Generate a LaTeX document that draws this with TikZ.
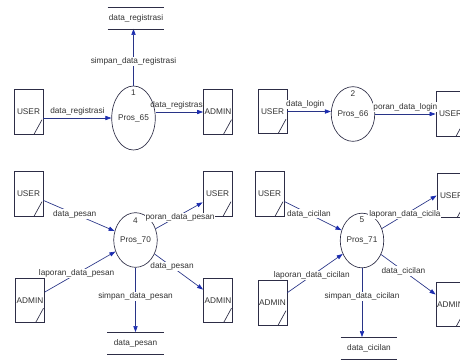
\documentclass[tikz,border=0pt]{standalone}
\usepackage{fontspec}
\setmainfont{Liberation Sans}
\usepackage{tikz}
\usetikzlibrary{
  arrows.meta,
  shapes.geometric
}

\definecolor{flowblue}{RGB}{40,52,135}
\definecolor{tipblue}{RGB}{28,45,175}
\definecolor{edgedark}{RGB}{45,45,70}
\definecolor{txtgray}{RGB}{50,50,50}

\newcommand{\dfdfont}{\fontsize{6.2}{7}\selectfont}

\begin{document}
\begin{tikzpicture}[
  x=0.75pt, y=-0.75pt,
  entity/.style={
    draw=edgedark, line width=0.6pt,
    minimum width=21.75pt, minimum height=33.5pt,
    inner sep=0pt, font=\dfdfont, text=txtgray,
    path picture={
      \draw[edgedark, line width=0.5pt]
        ([xshift=-6.75pt]path picture bounding box.south east) --
        ([xshift=-0.75pt, yshift=11pt]path picture bounding box.south east);
    }
  },
  proc/.style={
    ellipse, draw=edgedark, line width=0.5pt,
    minimum width=25.5pt, minimum height=41pt,
    inner sep=0pt, font=\dfdfont, text=txtgray
  },
  procnum/.style={font=\dfdfont, text=txtgray, inner sep=0pt},
  store/.style={
    minimum width=42pt, minimum height=16pt,
    inner sep=0pt, font=\dfdfont, text=txtgray
  },
  storeline/.style={draw=edgedark, line width=0.6pt},
  flow/.style={
    draw=flowblue, line width=0.5pt,
    -{Triangle[length=4.5pt, width=3.2pt, color=tipblue]}
  },
  flowlbl/.style={font=\dfdfont, text=txtgray, fill=white, inner sep=0.6pt}
]
  \useasboundingbox (0,0) rectangle (460,362);
  \clip (0,0) rectangle (460,362);

  % registrasi
  \node[store] (st1) at (136,18) {data\_registrasi};
  \node[proc, minimum height=48pt] (p1) at (133.5,118) {Pros\_65};
  \node[procnum] (n1) at ([yshift=-5.5pt]p1.north) {1};
  \node[entity] (u1) at (28.5,112) {USER};
  \node[entity] (a1) at (218,112) {ADMIN};

  \draw[flow] (p1.west -| u1.east) -- (p1.west)
    node[flowlbl, midway, above=1.5pt] (f11) {data\_registrasi};
  \draw[flow] (a1.west -| p1.east) -- (a1.west)
    node[flowlbl, fill=none, pos=.46, above=1.5pt] (f12) {data\_registrasi};
  \draw[flow] (p1.north) -- (p1.north |- st1.south)
    node[flowlbl, pos=.42] (f13) {simpan\_data\_registrasi};

  % login
  \node[proc] (p2) at (353,114) {Pros\_66};
  \node[procnum] (n2) at ([yshift=-5.5pt]p2.north) {2};
  \node[entity] (u2) at (272.5,111.5) {USER};
  \node[entity] (u2r) at (450.5,114) {USER};

  \draw[flow] (u2.east) -- (u2.east -| p2.west)
    node[flowlbl, pos=.41, above=1.5pt] (f21) {data\_login};
  \draw[flow] (p2.east) -- (p2.east -| u2r.west)
    node[flowlbl, pos=.5, above=1.5pt] (f22) {poran\_data\_login};

  % pesan
  \node[proc] (p3) at (135.5,240) {Pros\_70};
  \node[procnum] (n3) at ([yshift=-6pt]p3.north) {4};
  \node[entity] (u3) at (28.5,194) {USER};
  \node[entity] (u3r) at (217.5,194) {USER};
  \node[entity] (a3) at (30,300.5) {ADMIN};
  \node[entity] (a3r) at (218,300.5) {ADMIN};
  \node[store] (st3) at (135.5,343) {data\_pesan};

  \draw[flow] (u3) -- (p3)
    node[flowlbl, pos=.44] (f31) {data\_pesan};
  \draw[flow] (p3) -- (u3r)
    node[flowlbl, pos=.52, yshift=-2pt] (f32) {poran\_data\_pesan};
  \draw[flow] (a3) -- (p3)
    node[flowlbl, pos=.45] (f33) {laporan\_data\_pesan};
  \draw[flow] (p3) -- (a3r)
    node[flowlbl, pos=.36] (f34) {data\_pesan};
  \draw[flow] (p3.south) -- (p3.south |- st3.north)
    node[flowlbl, pos=.45] (f35) {simpan\_data\_pesan};

  % cicilan
  \node[proc] (p4) at (362,240.5) {Pros\_71};
  \node[procnum] (n4) at ([yshift=-5pt]p4.north) {5};
  \node[entity] (u4) at (269.5,194) {USER};
  \node[entity] (u4r) at (451.5,195.5) {USER};
  \node[entity] (a4) at (272.5,303) {ADMIN};
  \node[entity] (a4r) at (450.5,304.5) {ADMIN};
  \node[store] (st4) at (369,348) {data\_cicilan};

  \draw[flow] (u4) -- (p4)
    node[flowlbl, pos=.43] (f41) {data\_cicilan};
  \draw[flow] (p4) -- (u4r.west)
    node[flowlbl, pos=.42] (f42) {laporan\_data\_cicila};
  \draw[flow] (a4) -- (p4)
    node[flowlbl, pos=.44] (f43) {laporan\_data\_cicilan};
  \draw[flow] (p4) -- ([yshift=7.5pt]a4r.west)
    node[flowlbl, pos=.41] (f44) {data\_cicilan};
  \draw[flow] (p4.south) -- (p4.south |- st4.north)
    node[flowlbl, pos=.41] (f45) {simpan\_data\_cicilan};

  \foreach \s in {st1,st3,st4}
    \draw[storeline] (\s.north west) -- (\s.north east)
                     (\s.south west) -- (\s.south east);
\end{tikzpicture}
\end{document}
